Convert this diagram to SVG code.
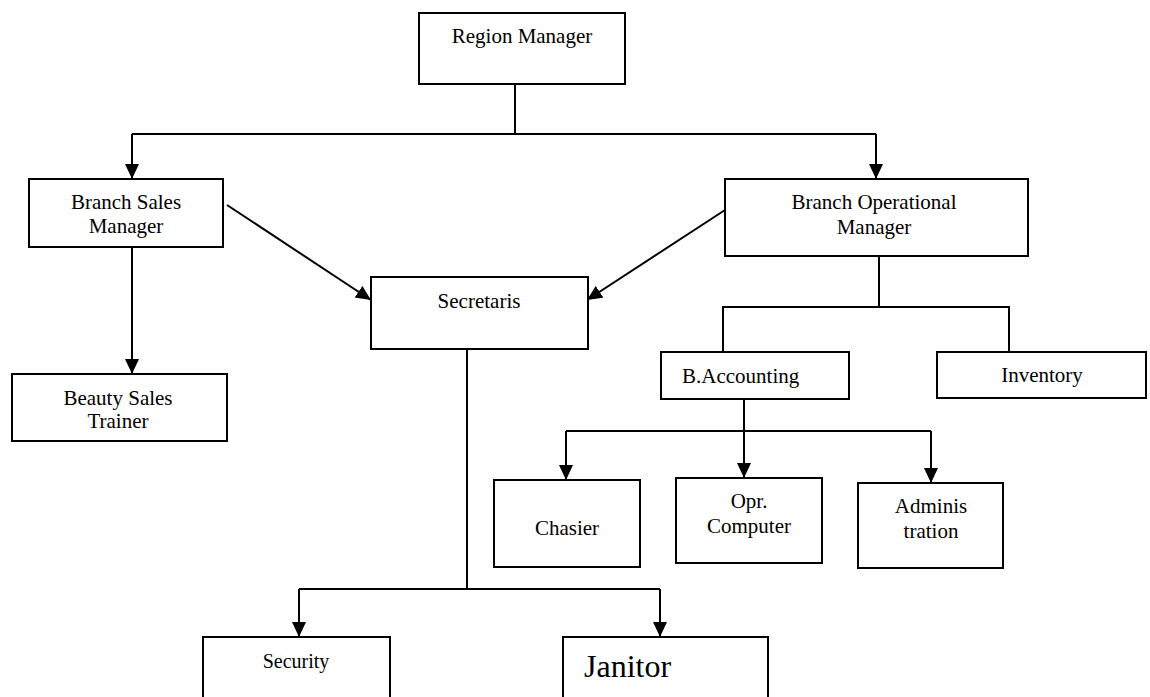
<svg xmlns="http://www.w3.org/2000/svg" width="1150" height="697" viewBox="0 0 1150 697">
<style>
.box{fill:#fff;stroke:#000;stroke-width:2}
.t{font-family:"Liberation Serif","Times New Roman",serif;font-size:21px;fill:#000;text-anchor:middle}
.c{fill:none;stroke:#000;stroke-width:2}
.a{marker-end:url(#arr)}
</style>
<defs>
<marker id="arr" markerUnits="userSpaceOnUse" markerWidth="16" markerHeight="15" refX="15" refY="7" orient="auto">
<path d="M0,0 L15,7 L0,14 z" fill="#000"/>
</marker>
</defs>
<rect width="1150" height="697" fill="#fff"/>
<g id="connectors">
<path class="c" d="M515,84 V134"/>
<path class="c" d="M132,134 H876"/>
<path class="c a" d="M132,134 V179"/>
<path class="c a" d="M876,134 V179"/>
<path class="c a" d="M132,247 V374"/>
<path class="c a" d="M227,205 L371,300"/>
<path class="c a" d="M725,210 L587,300"/>
<path class="c" d="M879,256 V307"/>
<path class="c" d="M723,352 V307 H1009 V352"/>
<path class="c" d="M744,399 V431"/>
<path class="c" d="M566,431 H931"/>
<path class="c a" d="M566,431 V480"/>
<path class="c a" d="M744,431 V478"/>
<path class="c a" d="M931,431 V483"/>
<path class="c" d="M467,349 V589"/>
<path class="c" d="M299,589 H660"/>
<path class="c a" d="M299,589 V637"/>
<path class="c a" d="M660,589 V637"/>
</g>
<g id="region-manager">
<rect class="box" x="419" y="13" width="206" height="71"/>
<text class="t" x="522" y="43">Region Manager</text>
</g>
<g id="branch-sales-manager">
<rect class="box" x="29" y="179" width="194" height="68"/>
<text class="t" x="126" y="209">Branch Sales</text>
<text class="t" x="126" y="233">Manager</text>
</g>
<g id="branch-operational-manager">
<rect class="box" x="725" y="179" width="303" height="77"/>
<text class="t" x="874" y="209">Branch Operational</text>
<text class="t" x="874" y="234">Manager</text>
</g>
<g id="secretaris">
<rect class="box" x="371" y="277" width="217" height="72"/>
<text class="t" x="479" y="308">Secretaris</text>
</g>
<g id="beauty-sales-trainer">
<rect class="box" x="12" y="374" width="215" height="67"/>
<text class="t" x="118" y="405">Beauty Sales</text>
<text class="t" x="118" y="428">Trainer</text>
</g>
<g id="b-accounting">
<rect class="box" x="661" y="352" width="188" height="47"/>
<text class="t" x="682" y="383" style="text-anchor:start">B.Accounting</text>
</g>
<g id="inventory">
<rect class="box" x="937" y="352" width="209" height="46"/>
<text class="t" x="1042" y="382">Inventory</text>
</g>
<g id="chasier">
<rect class="box" x="494" y="480" width="146" height="87"/>
<text class="t" x="567" y="535">Chasier</text>
</g>
<g id="opr-computer">
<rect class="box" x="676" y="478" width="146" height="85"/>
<text class="t" x="749" y="508">Opr.</text>
<text class="t" x="749" y="533">Computer</text>
</g>
<g id="administration">
<rect class="box" x="858" y="483" width="145" height="85"/>
<text class="t" x="931" y="513">Adminis</text>
<text class="t" x="931" y="538">tration</text>
</g>
<g id="security">
<rect class="box" x="203" y="637" width="187" height="70"/>
<text class="t" x="296" y="668" style="font-size:20px">Security</text>
</g>
<g id="janitor">
<rect class="box" x="563" y="637" width="205" height="70"/>
<text class="t" x="584" y="677" style="text-anchor:start;font-size:32px">Janitor</text>
</g>
</svg>
